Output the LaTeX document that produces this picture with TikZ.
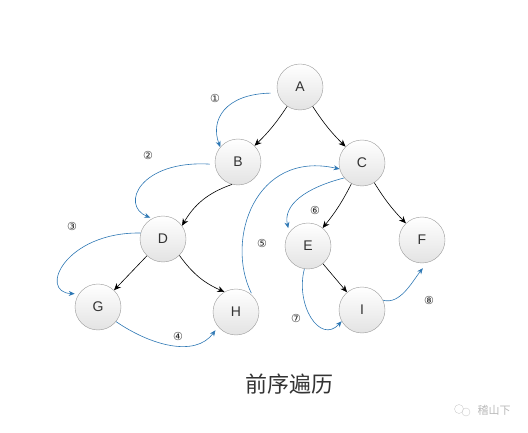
\documentclass[tikz,border=0pt]{standalone}
\usepackage{fontspec}
\setmainfont{Liberation Sans}
\newfontfamily\cjkfont{Noto Sans CJK SC}
\newfontfamily\numfont{DejaVu Sans}
\usetikzlibrary{arrows.meta}

\definecolor{trail}{RGB}{46,120,180}

\begin{document}
\begin{tikzpicture}[
		x=1pt, y=-1pt,
		vertex/.style={circle, minimum size=46pt, inner sep=0pt, draw=gray!80,
			top color=white, bottom color=gray!22, font=\fontsize{14}{14}\selectfont, text=black!80},
		tree/.style={-{Stealth[length=7pt,width=6pt]}, black, semithick},
		walk/.style={-{Stealth[length=6pt,width=5pt]}, trail, semithick},
		step num/.style={font=\numfont\fontsize{11}{11}\selectfont, text=black!85},
		]
		\useasboundingbox (0,0) rectangle (528,433);
		
		\node[vertex] (A) at (300,87) {A};
		\node[vertex] (B) at (238,162) {B};
		\node[vertex] (C) at (362,163) {C};
		\node[vertex] (D) at (163,239) {D};
		\node[vertex] (E) at (308,246) {E};
		\node[vertex] (F) at (422,240) {F};
		\node[vertex] (G) at (98,307) {G};
		\node[vertex] (H) at (236,312) {H};
		\node[vertex] (I) at (362,310) {I};
		
		% tree edges
		\draw[tree] (A) to[bend left=6] (B);
		\draw[tree] (A) to[bend right=6] (C);
		\draw[tree] (B.255) to[bend right=20] (D.35);
		\draw[tree] (C) to[bend left=6] (E);
		\draw[tree] (C) to[bend right=6] (F);
		\draw[tree] (D) -- (G);
		\draw[tree] (D.315) to[bend right=15] (H.120);
		\draw[tree] (E) -- (I);
		
		% preorder walk
		\draw[walk, shorten <=7pt] (A.195) .. controls (225,94) and (210,120) .. (B.140);
		\draw[walk, shorten <=5pt, shorten >=2pt] (B.186) .. controls (140,160) and (120,205) .. (D.118);
		\draw[walk] (D.165) .. controls (65,232) and (38,292) .. ([shift={(-3,-2)}]G.151);
		\draw[walk] (G.321) .. controls (150,345) and (195,358) .. ([shift={(-3,3)}]H.221);
		\draw[walk, shorten <=3pt] (H.44) .. controls (225,240) and (255,150) .. (C.195);
		\draw[walk] (C.220) .. controls (305,188) and (283,205) .. ([shift={(-2,-3)}]E.140);
		\draw[walk] (E.261) .. controls (295,305) and (320,345) .. (I.209);
		\draw[walk] (I.25) .. controls (400,305) and (412,282) .. ([shift={(0,5)}]F.272);
		
		\node[step num] (n1) at (215,98) {①};
		\node[step num] (n2) at (148,155) {②};
		\node[step num] (n3) at (72,226) {③};
		\node[step num] (n4) at (178,336) {④};
		\node[step num] (n5) at (262,243) {⑤};
		\node[step num] (n6) at (315,210) {⑥};
		\node[step num] (n7) at (296,318) {⑦};
		\node[step num] (n8) at (429,300) {⑧};
		
		\node[font=\cjkfont\fontsize{22}{22}\selectfont, text=black!80] (title) at (289,384) {前序遍历};
		
		% watermark
		\draw[gray!40] (459,409) circle (4.5pt) (466,412) circle (4pt);
		\node[font=\cjkfont\fontsize{11}{11}\selectfont, text=gray!55] (mark) at (494,410) {稽山下};
		
	\end{tikzpicture}
\end{document}
